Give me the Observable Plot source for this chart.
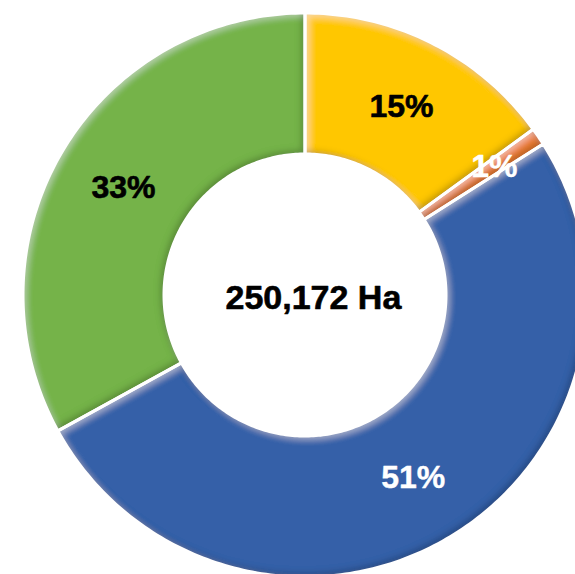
<!DOCTYPE html>
<html>
<head>
<meta charset="utf-8">
<script src="https://cdn.jsdelivr.net/npm/d3@7"></script>
<script src="https://cdn.jsdelivr.net/npm/@observablehq/plot@0.6"></script>
<style>
  html, body { margin: 0; padding: 0; background: #fff; }
  #chart { width: 575px; height: 574px; overflow: hidden; }
</style>
</head>
<body>
<div id="chart"></div>
<script>
// ---- data ----
const categories = ["Segment A", "Segment B", "Segment C", "Segment D"];
const shares = [15, 1, 51, 33];            // percent
const shareLabels = ["15%", "1%", "51%", "33%"];
const totalLabel = "250,172 Ha";

// ---- style ----
const sliceColors = ["#FFC700", "#ED7D31", "#3561A8", "#74B34A"];
const labelFills = ["#000", "#fff", "#fff", "#000"];
const innerRatio = 0.5;

// ---- geometry derived from values ----
const arcs = d3.pie().sort(null).value(d => d)(shares);
const ring = [];
arcs.forEach((a, i) => {
  const n = Math.max(8, Math.ceil((a.endAngle - a.startAngle) * 60));
  for (let k = 0; k <= n; k++) {
    const t = a.startAngle + (a.endAngle - a.startAngle) * k / n;
    ring.push({
      cat: categories[i],
      xo: Math.sin(t), yo: Math.cos(t),
      xi: innerRatio * Math.sin(t), yi: innerRatio * Math.cos(t)
    });
  }
});
const labels = arcs.map((a, i) => {
  const m = (a.startAngle + a.endAngle) / 2;
  const r = shares[i] < 3 ? 0.81 : (1 + innerRatio) / 2;
  return {cat: categories[i], text: shareLabels[i], fill: labelFills[i], x: r * Math.sin(m), y: r * Math.cos(m)};
});

const cx = 305, cy = 295, R = 282;
const font = "Arial, 'Liberation Sans', sans-serif";
const chart = Plot.plot({
  width: 575,
  height: 574,
  margin: 0,
  x: {domain: [-1, 1], range: [cx - R, cx + R], axis: null},
  y: {domain: [-1, 1], range: [cy + R, cy - R], axis: null},
  color: {domain: categories, range: sliceColors},
  style: {fontFamily: font},
  marks: [
    Plot.area(ring, {x1: "xo", y1: "yo", x2: "xi", y2: "yi", z: "cat", fill: "cat", curve: "linear"}),
    Plot.area(ring, {x1: "xo", y1: "yo", x2: "xi", y2: "yi", z: "cat", fill: "none", stroke: "white", strokeWidth: 3, curve: "linear"}),
    Plot.text(labels.filter(d => d.fill === "#000"), {x: "x", y: "y", text: "text", fill: "#000", stroke: "#000", strokeWidth: 0.6, fontSize: 32, fontWeight: "bold"}),
    Plot.text(labels.filter(d => d.fill === "#fff"), {x: "x", y: "y", text: "text", fill: "#fff", stroke: "#fff", strokeWidth: 0.4, fontSize: 32, fontWeight: "bold"}),
    Plot.text([totalLabel], {x: [0.028], y: [-0.01], text: d => d, fill: "#000", stroke: "#000", strokeWidth: 0.6, fontSize: 34, fontWeight: "bold"})
  ]
});

// bevel-like shading on the slices
const ns = "http://www.w3.org/2000/svg";
const defs = document.createElementNS(ns, "defs");
defs.innerHTML = `
<filter id="bevel" x="-5%" y="-5%" width="110%" height="110%">
  <feGaussianBlur in="SourceAlpha" stdDeviation="3.5" result="b"/>
  <feOffset in="b" dx="3" dy="3" result="bo"/>
  <feComposite in="SourceAlpha" in2="bo" operator="out" result="hl"/>
  <feFlood flood-color="#ffffff" flood-opacity="0.4" result="f1"/>
  <feComposite in="f1" in2="hl" operator="in" result="hlc"/>
  <feOffset in="b" dx="-3" dy="-3" result="bo2"/>
  <feComposite in="SourceAlpha" in2="bo2" operator="out" result="sh"/>
  <feFlood flood-color="#000000" flood-opacity="0.5" result="f2"/>
  <feComposite in="f2" in2="sh" operator="in" result="shc"/>
  <feMerge><feMergeNode in="SourceGraphic"/><feMergeNode in="hlc"/><feMergeNode in="shc"/></feMerge>
</filter>`;
chart.insertBefore(defs, chart.firstChild);
const areaGroups = chart.querySelectorAll('g[aria-label="area"]');
if (areaGroups.length) areaGroups[0].querySelectorAll("path").forEach(p => p.setAttribute("filter", "url(#bevel)"));

document.getElementById("chart").appendChild(chart);
</script>
</body>
</html>
